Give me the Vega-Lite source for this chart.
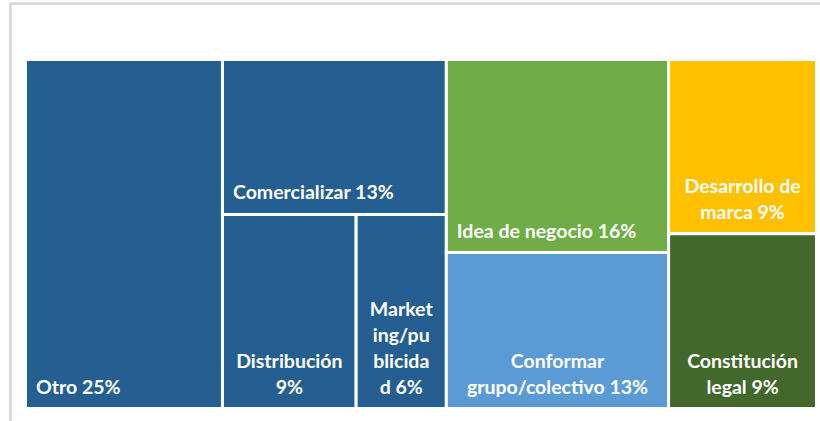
{
  "$schema": "https://vega.github.io/schema/vega-lite/v6.json",
  "width": 809.5,
  "height": 417.5,
  "autosize": {"type": "none"},
  "padding": {"left": 10.5, "top": 3.5, "right": 0, "bottom": 0},
  "background": "white",
  "config": {"view": {"stroke": null}},
  "data": {
    "values": [
      {"categoria": "Otro", "valor": 25, "label": "Otro 25%", "x0": 0, "x1": 24.9, "y0": 0, "y1": 100},
      {"categoria": "Comercializar", "valor": 13, "label": "Comercializar 13%", "x0": 24.9, "x1": 53.2, "y0": 0, "y1": 44.4},
      {"categoria": "Distribución", "valor": 9, "label": ["Distribución", "9%"], "x0": 24.9, "x1": 41.8, "y0": 44.4, "y1": 100},
      {"categoria": "Marketing/publicidad", "valor": 6, "label": ["Market", "ing/pu", "blicida", "d 6%"], "x0": 41.8, "x1": 53.2, "y0": 44.4, "y1": 100},
      {"categoria": "Idea de negocio", "valor": 16, "label": "Idea de negocio 16%", "x0": 53.2, "x1": 81.3, "y0": 0, "y1": 55.3},
      {"categoria": "Conformar grupo/colectivo", "valor": 13, "label": ["Conformar", "grupo/colectivo 13%"], "x0": 53.2, "x1": 81.3, "y0": 55.3, "y1": 100},
      {"categoria": "Desarrollo de marca", "valor": 9, "label": ["Desarrollo de", "marca 9%"], "x0": 81.3, "x1": 100, "y0": 0, "y1": 49.9},
      {"categoria": "Constitución legal", "valor": 9, "label": ["Constitución", "legal 9%"], "x0": 81.3, "x1": 100, "y0": 49.9, "y1": 100}
    ]
  },
  "encoding": {
    "x": {"field": "x0", "type": "quantitative", "scale": {"domain": [-1.896, 100.44], "nice": false, "zero": false}, "axis": null},
    "y": {"field": "y1", "type": "quantitative", "scale": {"domain": [-16.05, 103.58], "nice": false, "zero": false, "reverse": true}, "axis": null}
  },
  "layer": [
    {
      "mark": {"type": "rule", "color": "#D9D9D9", "strokeWidth": 1.5},
      "encoding": {"x": {"datum": -1.896, "type": "quantitative"}, "y": null}
    },
    {
      "mark": {"type": "rule", "color": "#D9D9D9", "strokeWidth": 1.5},
      "encoding": {"y": {"datum": -16.05, "type": "quantitative"}, "x": null}
    },
    {
      "mark": {"type": "rect", "stroke": "white", "strokeWidth": 3},
      "encoding": {
        "x": {"field": "x0", "type": "quantitative"},
        "x2": {"field": "x1"},
        "y": {"field": "y0", "type": "quantitative"},
        "y2": {"field": "y1"},
        "color": {
          "field": "categoria",
          "type": "nominal",
          "legend": null,
          "scale": {
            "domain": ["Otro", "Comercializar", "Distribución", "Marketing/publicidad", "Idea de negocio", "Conformar grupo/colectivo", "Desarrollo de marca", "Constitución legal"],
            "range": ["#255E91", "#255E91", "#255E91", "#255E91", "#70AD47", "#5B9BD5", "#FFC000", "#43682B"]
          }
        },
        "tooltip": [{"field": "categoria"}, {"field": "valor"}]
      }
    },
    {
      "transform": [{"filter": "!isArray(datum.label)"}],
      "mark": {"type": "text", "align": "left", "baseline": "bottom", "dx": 10.5, "dy": -11, "font": "Lato", "fontWeight": "bold", "fontSize": 19.5, "color": "white"},
      "encoding": {
        "x": {"field": "x0", "type": "quantitative"},
        "y": {"field": "y1", "type": "quantitative"},
        "text": {"field": "label"}
      }
    },
    {
      "transform": [{"filter": "isArray(datum.label) && length(datum.label) == 2"}, {"calculate": "(datum.x0 + datum.x1) / 2", "as": "xm"}],
      "mark": {"type": "text", "align": "center", "baseline": "bottom", "dy": -37, "lineHeight": 26, "font": "Lato", "fontWeight": "bold", "fontSize": 19.5, "color": "white"},
      "encoding": {
        "x": {"field": "xm", "type": "quantitative"},
        "y": {"field": "y1", "type": "quantitative"},
        "text": {"field": "label"}
      }
    },
    {
      "transform": [{"filter": "isArray(datum.label) && length(datum.label) == 4"}, {"calculate": "(datum.x0 + datum.x1) / 2", "as": "xm"}],
      "mark": {"type": "text", "align": "center", "baseline": "bottom", "dy": -89, "lineHeight": 26, "font": "Lato", "fontWeight": "bold", "fontSize": 19.5, "color": "white"},
      "encoding": {
        "x": {"field": "xm", "type": "quantitative"},
        "y": {"field": "y1", "type": "quantitative"},
        "text": {"field": "label"}
      }
    }
  ]
}
